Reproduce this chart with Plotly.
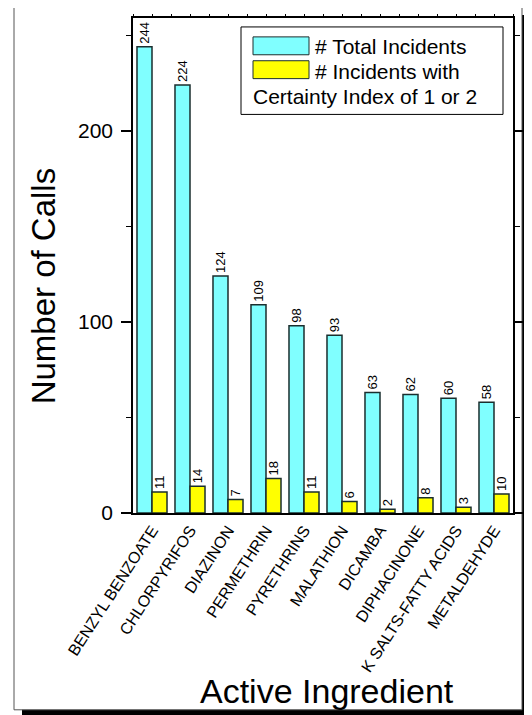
import plotly.graph_objects as go

categories = ["BENZYL BENZOATE", "CHLORPYRIFOS", "DIAZINON", "PERMETHRIN", "PYRETHRINS",
              "MALATHION", "DICAMBA", "DIPHACINONE", "K SALTS-FATTY ACIDS", "METALDEHYDE"]
total_incidents = [244, 224, 124, 109, 98, 93, 63, 62, 60, 58]
certainty_incidents = [11, 14, 7, 18, 11, 6, 2, 8, 3, 10]
y_tickvals = [0, 100, 200]

# the page body has an 8px margin, so the figure is laid out 8px smaller
OFF = 8
W, H = 532 - OFF, 715 - OFF
L, R, T, B = 133, 513, 15, 513  # plot area in reference pixels


def px(x):
    return (x - L) / (R - L)


def py(y):
    return (B - y) / (B - T)


FONT = "Arial, Liberation Sans, sans-serif"
CYAN = "#80FFFF"
YELLOW = "#FFFF00"
EDGE = "#1a2e2e"

fig = go.Figure()
fig.add_trace(go.Bar(
    x=categories, y=total_incidents, name="# Total Incidents",
    marker=dict(color=CYAN, line=dict(color=EDGE, width=1.5)),
    text=[str(v) for v in total_incidents], textposition="outside", textangle=-90,
    textfont=dict(family=FONT, size=13, color="black"), cliponaxis=False,
    constraintext="none", showlegend=False,
))
fig.add_trace(go.Bar(
    x=categories, y=certainty_incidents, name="# Incidents with Certainty Index of 1 or 2",
    marker=dict(color=YELLOW, line=dict(color=EDGE, width=1.5)),
    text=[str(v) for v in certainty_incidents], textposition="outside", textangle=-90,
    textfont=dict(family=FONT, size=13, color="black"), cliponaxis=False,
    constraintext="none", showlegend=False,
))

shapes = []
# frame shadow and frame
shapes.append(dict(type="rect", xref="paper", yref="paper", layer="below",
                   x0=px(22), x1=px(531), y0=py(12), y1=py(722),
                   fillcolor="black", line=dict(width=0)))
shapes.append(dict(type="rect", xref="paper", yref="paper", layer="below",
                   x0=px(14), x1=px(522), y0=py(4), y1=py(711),
                   fillcolor="white", line=dict(color="#555555", width=1)))
# legend box
shapes.append(dict(type="rect", xref="paper", yref="paper",
                   x0=px(241), x1=px(503), y0=py(24), y1=py(112),
                   fillcolor="white", line=dict(color="black", width=1)))
shapes.append(dict(type="rect", xref="paper", yref="paper",
                   x0=px(253), x1=px(309), y0=py(34), y1=py(52),
                   fillcolor=CYAN, line=dict(color=EDGE, width=1)))
shapes.append(dict(type="rect", xref="paper", yref="paper",
                   x0=px(253), x1=px(309), y0=py(58), y1=py(76),
                   fillcolor=YELLOW, line=dict(color=EDGE, width=1)))

LEG = dict(family=FONT, size=21, color="black")
annotations = [
    dict(text="# Total Incidents", x=px(313), y=py(44), xref="paper", yref="paper",
         xanchor="left", yanchor="middle", showarrow=False, font=LEG),
    dict(text="# Incidents with", x=px(313), y=py(69), xref="paper", yref="paper",
         xanchor="left", yanchor="middle", showarrow=False, font=LEG),
    dict(text="Certainty Index of 1 or 2", x=px(251), y=py(94), xref="paper", yref="paper",
         xanchor="left", yanchor="middle", showarrow=False, font=LEG),
    dict(text="Number of Calls", x=px(43), y=py(285), xref="paper", yref="paper",
         xanchor="center", yanchor="middle", showarrow=False, textangle=-90,
         font=dict(family=FONT, size=33, color="black")),
    dict(text="Active Ingredient", x=px(327), y=py(692), xref="paper", yref="paper",
         xanchor="center", yanchor="middle", showarrow=False,
         font=dict(family=FONT, size=34, color="black")),
]

fig.update_layout(
    width=W, height=H,
    margin=dict(l=L - OFF, r=W - (R - OFF), t=T - OFF, b=H - (B - OFF), pad=0),
    paper_bgcolor="white", plot_bgcolor="rgba(0,0,0,0)",
    barmode="group", bargap=0.21, bargroupgap=0,
    uniformtext=dict(mode=False),
    shapes=shapes, annotations=annotations,
    font=dict(family=FONT, color="black"),
    xaxis=dict(showline=True, linecolor="black", linewidth=1.5, mirror=True,
               ticks="", tickangle=-57, tickfont=dict(family=FONT, size=16, color="black"),
               showgrid=False, zeroline=False),
    xaxis2=dict(overlaying="x", side="top", anchor="y", range=[-0.5, 9.5],
                tick0=-0.5, dtick=0.5, ticks="outside", ticklen=3, tickwidth=1,
                tickcolor="black", showticklabels=False, showgrid=False,
                zeroline=False, showline=False),
    yaxis=dict(range=[0, 259], tickvals=y_tickvals, ticks="outside", ticklen=10,
               tickwidth=1.5, tickcolor="black", showline=True, linecolor="black",
               linewidth=1.5, mirror="ticks", showgrid=False, zeroline=False,
               ticklabelstandoff=4,
               tickfont=dict(family=FONT, size=21, color="black"),
               minor=dict(dtick=50, tick0=0, ticks="outside", ticklen=5,
                          tickcolor="black", tickwidth=1, showgrid=False)),
)
# invisible helper trace so the top tick axis renders
fig.add_trace(go.Scatter(x=[-0.5, 9.5], y=[0, 0], xaxis="x2", yaxis="y",
                         mode="markers", marker=dict(opacity=0), showlegend=False,
                         hoverinfo="skip"))

fig.write_html("out.html")
